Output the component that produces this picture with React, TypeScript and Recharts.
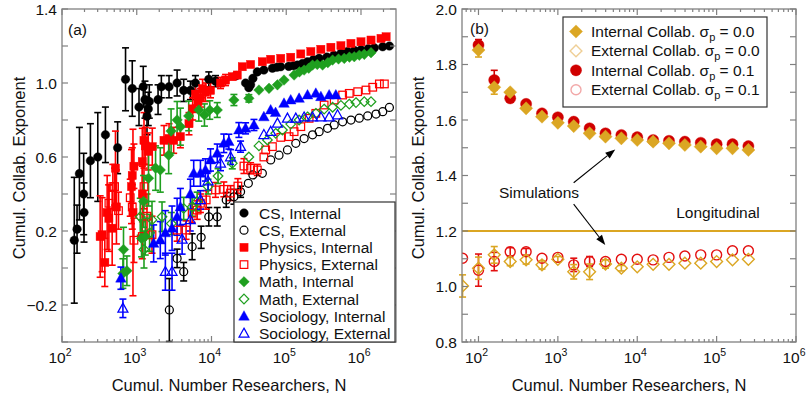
import { ErrorBar, ReferenceLine, Scatter, ScatterChart, XAxis, YAxis } from 'recharts';

const FONT = '"Liberation Sans", Arial, Helvetica, sans-serif';
const AXIS = '#808080';
const INK = '#111';

// rows are [cumulative researchers N, exponent, error]
const csInternal = [
  [146, 0.15, 0.34], [159, 0.21, 0.13], [171, 0.51, 0.25], [195, 0.4, 0.22], [197, 0.3, 0.16],
  [240, 0.58, 0.2], [301, 0.6, 0.24], [381, 0.72, 0.15], [555, 0.65, 0.14], [708, 1.02, 0.17],
  [871, 0.97, 0.15], [1072, 0.87, 0.1], [1222, 0.98, 0.11], [1288, 0.91, 0.1], [1371, 0.82, 0.1],
  [1426, 0.86, 0.09], [1472, 0.9, 0.09], [1928, 0.91, 0.08], [2134, 0.98, 0.06], [2704, 0.98, 0.06],
  [3467, 1.0, 0.07], [4246, 0.96, 0.06], [5224, 0.96, 0.05], [6095, 1.0, 0.04], [9204, 1.02, 0.04],
  [11320, 1.01, 0.03], [21400, 1.04, 0], [28580, 1.0, 0], [31600, 0.975, 0], [33340, 0.99, 0],
  [35810, 1.025, 0], [41020, 1.06, 0], [50190, 1.07, 0], [65300, 1.08, 0], [75000, 1.085, 0],
  [84400, 1.088, 0], [108100, 1.09, 0], [125000, 1.093, 0], [141300, 1.097, 0], [165000, 1.105, 0],
  [192600, 1.115, 0], [230000, 1.125, 0], [275000, 1.133, 0], [350000, 1.14, 0], [434500, 1.15, 0],
  [540000, 1.16, 0], [661000, 1.17, 0], [820000, 1.175, 0], [1000000, 1.18, 0], [1250000, 1.185, 0],
  [1507000, 1.19, 0], [1950000, 1.196, 0], [2400000, 1.2, 0],
];

const csExternal = [
  [2730, -0.227, 0.17], [3467, 0.052, 0.05], [4246, -0.02, 0.05], [5510, 0.115, 0.07],
  [7270, 0.166, 0.06], [9200, 0.277, 0.05], [11940, 0.277, 0.05], [15750, 0.368, 0.04],
  [19950, 0.385, 0.04], [24490, 0.412, 0.03], [31120, 0.458, 0], [35800, 0.503, 0],
  [47900, 0.512, 0], [61900, 0.584, 0], [80000, 0.61, 0], [103800, 0.638, 0], [134200, 0.674, 0],
  [173500, 0.7, 0], [224900, 0.72, 0], [275400, 0.737, 0], [357400, 0.755, 0], [438300, 0.773, 0],
  [567600, 0.79, 0], [734100, 0.8, 0], [948400, 0.81, 0], [1230000, 0.822, 0], [1589000, 0.832, 0],
  [1953000, 0.845, 0], [2399000, 0.868, 0],
];

const physicsInternal = [
  [324, 0.17, 0.22], [344, 0.18, 0.2], [374, 0.03, 0.13], [402, 0.3, 0.2], [424, 0.27, 0.18],
  [469, 0.215, 0.2], [519, 0.54, 0.2], [535, 0.33, 0.2], [851, 0.44, 0.2], [871, 0.5, 0.15],
  [890, 0.3, 0.45], [917, 0.55, 0.12], [1186, 0.575, 0.18], [1190, 0.4, 0.15], [1250, 0.69, 0.15],
  [1301, 0.66, 0.1], [1426, 0.63, 0.1], [1614, 0.656, 0.1], [2317, 0.69, 0.08], [2705, 0.7, 0.08],
  [3119, 0.69, 0.07], [3837, 0.71, 0.06], [5000, 0.78, 0.06], [5600, 0.86, 0.06], [6095, 0.94, 0.06],
  [6600, 0.9, 0.05], [7112, 0.92, 0.05], [7600, 0.97, 0.05], [8300, 0.95, 0.05], [9700, 0.96, 0.04],
  [13200, 1.0, 0.03], [15420, 1.016, 0.03], [18970, 1.034, 0], [22130, 1.043, 0], [25830, 1.088, 0],
  [33340, 1.1, 0], [47900, 1.115, 0], [61900, 1.128, 0], [84400, 1.133, 0], [114800, 1.139, 0],
  [156600, 1.157, 0], [213500, 1.17, 0], [290600, 1.182, 0], [395800, 1.193, 0], [539000, 1.202, 0],
  [734000, 1.214, 0], [1000000, 1.223, 0], [1362000, 1.232, 0], [1854000, 1.241, 0], [2167000, 1.25, 0],
];

const physicsExternal = [
  [424, 0.35, 0.1], [479, 0.44, 0.12], [505, 0.44, 0.1], [570, 0.31, 0.1], [818, 0.38, 0.1],
  [871, 0.33, 0.12], [917, 0.15, 0.12], [1186, 0.17, 0.12], [1250, 0.44, 0.12], [1371, 0.28, 0.12],
  [1600, 0.18, 0.1], [3467, 0.205, 0.06], [4570, 0.205, 0.05], [5510, 0.296, 0.05], [6430, 0.313, 0.05],
  [7112, 0.35, 0.05], [8490, 0.368, 0.05], [11320, 0.422, 0.04], [14620, 0.425, 0.04], [17990, 0.405, 0.04],
  [22540, 0.443, 0.04], [27160, 0.551, 0.04], [33340, 0.539, 0.03], [41020, 0.53, 0.03], [50190, 0.6, 0],
  [53100, 0.638, 0], [65300, 0.656, 0], [84400, 0.706, 0], [109100, 0.71, 0], [127400, 0.737, 0],
  [156600, 0.764, 0], [202300, 0.809, 0], [248700, 0.836, 0], [321400, 0.881, 0], [438000, 0.908, 0],
  [568000, 0.935, 0], [697000, 0.944, 0], [903000, 0.953, 0], [1166000, 0.962, 0], [1436000, 0.977, 0],
  [1762000, 0.995, 0], [2056000, 0.995, 0],
];

const mathInternal = [
  [653, -0.03, 0.08], [665, 0.1, 0.12], [738, -0.015, 0.08], [1159, 0.16, 0.1], [1233, 0.36, 0.14],
  [1300, 0.17, 0.1], [1439, 0.485, 0.15], [1786, 0.54, 0.12], [2065, 0.53, 0.12], [2673, 0.61, 0.1],
  [2878, 0.74, 0.12], [3467, 0.8, 0.1], [3837, 0.764, 0.1], [4955, 0.822, 0.08], [6760, 0.854, 0.06],
  [8050, 0.827, 0.06], [9480, 0.854, 0.05], [11940, 0.854, 0.04], [19950, 0.908, 0.03], [31620, 0.917, 0.02],
  [43150, 0.962, 0], [58850, 0.971, 0], [76260, 0.99, 0], [93330, 1.016, 0], [127400, 1.043, 0],
  [150000, 1.06, 0], [173500, 1.07, 0], [200000, 1.08, 0], [224900, 1.097, 0], [260000, 1.1, 0],
  [306300, 1.097, 0], [360000, 1.11, 0], [417000, 1.124, 0], [500000, 1.13, 0], [597000, 1.133, 0],
  [700000, 1.14, 0], [813000, 1.142, 0], [950000, 1.15, 0], [1106000, 1.155, 0], [1362000, 1.164, 0],
];

const mathExternal = [
  [1114, 0.277, 0.1], [1250, 0.1, 0.1], [1486, 0.19, 0.1], [1600, 0.26, 0.1], [2178, 0.277, 0.08],
  [2900, 0.24, 0.06], [4246, 0.322, 0.06], [5500, 0.33, 0.05], [6430, 0.36, 0.05], [9000, 0.44, 0.04],
  [12230, 0.497, 0.04], [18970, 0.566, 0.03], [31620, 0.6, 0], [43150, 0.66, 0], [56000, 0.692, 0],
  [72300, 0.728, 0], [88900, 0.746, 0], [114800, 0.778, 0], [148600, 0.8, 0], [192600, 0.817, 0],
  [248700, 0.836, 0], [321400, 0.859, 0], [417000, 0.869, 0], [539000, 0.879, 0], [697000, 0.886, 0],
  [857000, 0.894, 0], [1106000, 0.899, 0], [1362000, 0.899, 0],
];

const sociologyInternal = [
  [614, -0.055, 0.06], [1683, 0.133, 0.1], [2065, 0.151, 0.1], [2414, 0.19, 0.12], [2965, 0.215, 0.12],
  [3467, 0.277, 0.1], [3837, 0.33, 0.1], [5224, 0.4, 0.08], [5780, 0.512, 0.07], [7112, 0.512, 0.07],
  [8300, 0.53, 0.06], [9700, 0.584, 0.06], [11940, 0.62, 0.05], [14620, 0.674, 0.05], [17060, 0.683, 0.04],
  [23240, 0.746, 0.04], [28580, 0.755, 0.03], [37000, 0.773, 0.03], [50190, 0.817, 0], [61900, 0.854, 0],
  [72000, 0.84, 0], [93330, 0.89, 0], [114800, 0.908, 0], [148600, 0.917, 0], [192600, 0.935, 0],
  [248700, 0.944, 0], [290600, 0.926, 0], [375000, 0.935, 0], [461000, 0.935, 0],
];

const sociologyExternal = [
  [653, -0.218, 0.05], [2414, -0.02, 0.1], [2965, -0.02, 0.1], [4046, 0.155, 0.08], [5200, 0.26, 0.06],
  [7112, 0.368, 0.05], [9000, 0.47, 0.05], [13200, 0.566, 0.04], [17990, 0.6, 0.04], [24490, 0.656, 0.03],
  [50190, 0.72, 0], [61900, 0.737, 0], [76260, 0.782, 0], [103800, 0.809, 0], [134200, 0.809, 0],
  [173500, 0.815, 0], [224900, 0.815, 0], [290600, 0.815, 0], [375000, 0.815, 0], [486000, 0.827, 0],
];

// simulated model, panel (b)
const internalSigma00 = [
  [100, 1.852, 0.025], [158, 1.718, 0.025], [251, 1.7, 0], [398, 1.642, 0], [631, 1.612, 0],
  [1000, 1.59, 0], [1585, 1.578, 0], [2512, 1.552, 0], [3981, 1.54, 0], [6310, 1.534, 0],
  [10000, 1.528, 0], [15849, 1.522, 0], [25119, 1.516, 0], [39811, 1.51, 0], [63096, 1.504, 0],
  [100000, 1.498, 0], [158489, 1.498, 0], [251189, 1.492, 0],
];

const externalSigma00 = [
  [63, 1.002, 0.04], [100, 1.066, 0.04], [158, 1.114, 0.03], [251, 1.09, 0.015], [398, 1.096, 0.015],
  [631, 1.078, 0.015], [1000, 1.098, 0.01], [1585, 1.053, 0.026], [2512, 1.053, 0.028], [3981, 1.081, 0.015],
  [6310, 1.066, 0.01], [10000, 1.071, 0], [15849, 1.08, 0], [25119, 1.08, 0], [39811, 1.084, 0],
  [63096, 1.084, 0], [100000, 1.09, 0], [158489, 1.096, 0], [251189, 1.098, 0],
];

const internalSigma01 = [
  [100, 1.87, 0.02], [158, 1.744, 0.035], [251, 1.678, 0], [398, 1.658, 0], [631, 1.624, 0],
  [1000, 1.61, 0], [1585, 1.594, 0], [2512, 1.57, 0], [3981, 1.552, 0], [6310, 1.546, 0],
  [10000, 1.538, 0], [15849, 1.528, 0], [25119, 1.525, 0], [39811, 1.522, 0], [63096, 1.518, 0],
  [100000, 1.513, 0], [158489, 1.513, 0], [251189, 1.506, 0],
];

const externalSigma01 = [
  [63, 1.102, 0], [100, 1.059, 0.058], [158, 1.09, 0.033], [251, 1.125, 0.015], [398, 1.125, 0.012],
  [631, 1.102, 0], [1000, 1.105, 0], [1585, 1.078, 0.024], [2512, 1.09, 0.018], [3981, 1.09, 0],
  [6310, 1.098, 0], [10000, 1.098, 0], [15849, 1.096, 0], [25119, 1.105, 0], [39811, 1.11, 0],
  [63096, 1.114, 0], [100000, 1.114, 0], [158489, 1.129, 0], [251189, 1.129, 0],
];

const longitudinalExponent = 1.2;

const yTicksA = [-0.4, -0.2, 0, 0.2, 0.4, 0.6, 0.8, 1.0, 1.2, 1.4];
const yLabelsA = [-0.2, 0.2, 0.6, 1.0, 1.4];
const yTicksB = [0.8, 0.9, 1.0, 1.1, 1.2, 1.3, 1.4, 1.5, 1.6, 1.7, 1.8, 1.9, 2.0];
const yLabelsB = [0.8, 1.0, 1.2, 1.4, 1.6, 1.8, 2.0];

const GOLD = '#dba623';
const DARKRED = '#d00000';
const GREEN = '#1f9f1f';

type Kind = 'circle' | 'square' | 'diamond' | 'triangle';

const seriesA = [
  { name: 'CS, Internal', rows: csInternal, color: '#000', kind: 'circle', filled: true, size: 4.3 },
  { name: 'CS, External', rows: csExternal, color: '#000', kind: 'circle', filled: false, size: 4 },
  { name: 'Physics, Internal', rows: physicsInternal, color: '#ff0000', kind: 'square', filled: true, size: 4.1 },
  { name: 'Physics, External', rows: physicsExternal, color: '#ff0000', kind: 'square', filled: false, size: 3.8 },
  { name: 'Math, Internal', rows: mathInternal, color: GREEN, kind: 'diamond', filled: true, size: 5.3 },
  { name: 'Math, External', rows: mathExternal, color: GREEN, kind: 'diamond', filled: false, size: 4.8 },
  { name: 'Sociology, Internal', rows: sociologyInternal, color: '#0000ff', kind: 'triangle', filled: true, size: 5.3 },
  { name: 'Sociology, External', rows: sociologyExternal, color: '#0000ff', kind: 'triangle', filled: false, size: 5 },
];

// red drawn first so the gold diamonds sit on top
const seriesB = [
  { name: 'Internal Collab. σp = 0.1', rows: internalSigma01, color: DARKRED, kind: 'circle', filled: true, size: 5.6 },
  { name: 'External Collab. σp = 0.1', rows: externalSigma01, color: '#e31010', kind: 'circle', filled: false, size: 5 },
  { name: 'Internal Collab. σp = 0.0', rows: internalSigma00, color: GOLD, kind: 'diamond', filled: true, size: 6.6 },
  { name: 'External Collab. σp = 0.0', rows: externalSigma00, color: GOLD, kind: 'diamond', filled: false, size: 5.9 },
];

const legendB = [
  { sigma: '0.0', label: 'Internal Collab. ', color: GOLD, kind: 'diamond', filled: true, size: 6.6 },
  { sigma: '0.0', label: 'External Collab. ', color: '#efcf96', kind: 'diamond', filled: false, size: 5.9 },
  { sigma: '0.1', label: 'Internal Collab. ', color: DARKRED, kind: 'circle', filled: true, size: 5.6 },
  { sigma: '0.1', label: 'External Collab. ', color: '#f2a8a8', kind: 'circle', filled: false, size: 5 },
];

const toPoints = (rows: number[][]) => rows.map(([n, v, e]) => ({ n, v, e: e > 0 ? e : null }));

function logTicks(lo: number, hi: number) {
  const out: number[] = [];
  for (let k = Math.floor(Math.log10(lo)); k <= Math.ceil(Math.log10(hi)); k++) {
    for (let m = 1; m <= 9; m++) {
      const t = m * Math.pow(10, k);
      if (t >= lo && t <= hi) out.push(t);
    }
  }
  return out;
}

function Marker({ cx, cy, kind, color, filled, size, sw = 1.2 }: any) {
  if (cx == null || cy == null) return null;
  const fill = filled ? color : 'none';
  const strokeWidth = filled ? 0.4 : sw;
  const common = { fill, stroke: color, strokeWidth };
  switch (kind as Kind) {
    case 'circle':
      return <circle cx={cx} cy={cy} r={size} {...common} />;
    case 'square':
      return <rect x={cx - size} y={cy - size} width={size * 2} height={size * 2} {...common} />;
    case 'diamond':
      return <polygon points={`${cx},${cy - size} ${cx + size},${cy} ${cx},${cy + size} ${cx - size},${cy}`} {...common} />;
    default:
      return (
        <polygon
          points={`${cx},${cy - size * 1.05} ${cx + size},${cy + size * 0.75} ${cx - size},${cy + size * 0.75}`}
          {...common}
        />
      );
  }
}

// log axis tick: inward marks on bottom and top, label 10^k on decades
function LogTick(props: any) {
  const { x, y, payload, plotHeight } = props;
  const lg = Math.log10(payload.value);
  const exp = Math.round(lg);
  const major = Math.abs(lg - exp) < 1e-6;
  const len = major ? 6 : 3;
  const top = y - plotHeight;
  return (
    <g>
      <line x1={x} y1={y} x2={x} y2={y - len} stroke={AXIS} strokeWidth={1.2} />
      <line x1={x} y1={top} x2={x} y2={top + len} stroke={AXIS} strokeWidth={1.2} />
      {major && (
        <text x={x - 2} y={y + 21} textAnchor="middle" fontSize={15.5} fontFamily={FONT} fill={INK}>
          10
          <tspan dy={-7} fontSize={10.5}>
            {exp}
          </tspan>
        </text>
      )}
    </g>
  );
}

function ValueTick(props: any) {
  const { x, y, payload, plotWidth, labels } = props;
  const v = payload.value;
  const labeled = labels.some((l: number) => Math.abs(l - v) < 1e-6);
  const right = x + plotWidth;
  return (
    <g>
      <line x1={x} y1={y} x2={x + 6} y2={y} stroke={AXIS} strokeWidth={1.2} />
      <line x1={right} y1={y} x2={right - 6} y2={y} stroke={AXIS} strokeWidth={1.2} />
      {labeled && (
        <text x={x - 5} y={y + 5.5} textAnchor="end" fontSize={15.5} fontFamily={FONT} fill={INK}>
          {v.toFixed(1).replace('-', '\u2212')}
        </text>
      )}
    </g>
  );
}

function Arrow(props: any) {
  const { x1, y1, x2, y2 } = props;
  const ang = Math.atan2(y2 - y1, x2 - x1);
  const L = 10;
  const W = 3.6;
  const bx = x2 - L * Math.cos(ang);
  const by = y2 - L * Math.sin(ang);
  const pts = `${x2},${y2} ${bx + W * Math.sin(ang)},${by - W * Math.cos(ang)} ${bx - W * Math.sin(ang)},${by + W * Math.cos(ang)}`;
  return (
    <g>
      <line x1={x1} y1={y1} x2={bx} y2={by} stroke="#000" strokeWidth={1.1} />
      <polygon points={pts} fill="#000" />
    </g>
  );
}

function renderSeries(list: any[], capHalf: number, barWidth: number, sw: number) {
  return list.map((s) => (
    <Scatter
      key={s.name}
      name={s.name}
      data={toPoints(s.rows)}
      isAnimationActive={false}
      shape={(p: any) => <Marker cx={p.cx} cy={p.cy} kind={s.kind} color={s.color} filled={s.filled} size={s.size} sw={sw} />}
    >
      <ErrorBar dataKey="e" direction="y" width={capHalf} stroke={s.color} strokeWidth={barWidth} isAnimationActive={false} />
    </Scatter>
  ));
}

const xTicksA = logTicks(100, 2.94e6);
const xTicksB = logTicks(62, 1e6);

function PanelA() {
  return (
    <ScatterChart width={405} height={403} margin={{ top: 9, right: 9, bottom: 21, left: 22 }}>
      <XAxis
        type="number"
        dataKey="n"
        scale="log"
        domain={[100, 2.94e6]}
        allowDataOverflow
        ticks={xTicksA}
        interval={0}
        height={40}
        tickSize={0}
        tickMargin={0}
        axisLine={false}
        tickLine={false}
        tick={(p: any) => <LogTick {...p} plotHeight={333} />}
      />
      <YAxis
        type="number"
        dataKey="v"
        domain={[-0.4, 1.4]}
        allowDataOverflow
        ticks={yTicksA}
        interval={0}
        width={40}
        tickSize={0}
        tickMargin={0}
        axisLine={false}
        tickLine={false}
        tick={(p: any) => <ValueTick {...p} plotWidth={334} labels={yLabelsA} />}
      />
      {renderSeries(seriesA, 3.5, 1.6, 1.25)}
    </ScatterChart>
  );
}

function PanelB() {
  return (
    <ScatterChart width={404} height={403} margin={{ top: 9, right: 13, bottom: 21, left: 17 }}>
      <XAxis
        type="number"
        dataKey="n"
        scale="log"
        domain={[62, 1e6]}
        allowDataOverflow
        ticks={xTicksB}
        interval={0}
        height={40}
        tickSize={0}
        tickMargin={0}
        axisLine={false}
        tickLine={false}
        tick={(p: any) => <LogTick {...p} plotHeight={333} />}
      />
      <YAxis
        type="number"
        dataKey="v"
        domain={[0.8, 2.0]}
        allowDataOverflow
        ticks={yTicksB}
        interval={0}
        width={40}
        tickSize={0}
        tickMargin={0}
        axisLine={false}
        tickLine={false}
        tick={(p: any) => <ValueTick {...p} plotWidth={334} labels={yLabelsB} />}
      />
      <ReferenceLine y={longitudinalExponent} stroke={GOLD} strokeWidth={2.2} />
      <ReferenceLine segment={[{ x: 1581, y: 1.374 }, { x: 5284, y: 1.494 }]} shape={(p: any) => <Arrow {...p} />} />
      <ReferenceLine segment={[{ x: 1581, y: 1.297 }, { x: 3954, y: 1.15 }]} shape={(p: any) => <Arrow {...p} />} />
      {renderSeries(seriesB, 3.5, 1.6, 1.4)}
    </ScatterChart>
  );
}

function Overlay() {
  const rowA = (i: number) => 213 + i * 17.2;
  const rowB = (i: number) => 31.5 + i * 19.4;
  return (
    <svg
      width={809}
      height={403}
      style={{ position: 'absolute', left: 0, top: 0, pointerEvents: 'none' }}
      fontFamily={FONT}
      fill={INK}
    >
      <rect x={62} y={9} width={334} height={333} fill="none" stroke={AXIS} strokeWidth={1.3} />
      <rect x={462} y={9} width={334} height={333} fill="none" stroke={AXIS} strokeWidth={1.3} />

      <text x={68} y={35} fontSize={15.5}>(a)</text>
      <text x={470} y={34} fontSize={15.5}>(b)</text>

      <text x={229} y={391} fontSize={16.5} textAnchor="middle">Cumul. Number Researchers, N</text>
      <text x={629} y={391} fontSize={16.5} textAnchor="middle">Cumul. Number Researchers, N</text>
      <text transform="translate(25,168) rotate(-90)" fontSize={16.5} textAnchor="middle">Cumul. Collab. Exponent</text>
      <text transform="translate(424,168) rotate(-90)" fontSize={16.5} textAnchor="middle">Cumul. Collab. Exponent</text>

      <text x={539} y={198} fontSize={15.5} textAnchor="middle">Simulations</text>
      <text x={718} y={218} fontSize={15.5} textAnchor="middle">Longitudinal</text>

      <rect x={234} y={202} width={161} height={140} fill="#fff" stroke="#333" strokeWidth={1.2} />
      {seriesA.map((s, i) => (
        <g key={s.name}>
          <Marker cx={244} cy={rowA(i)} kind={s.kind} color={s.color} filled={s.filled} size={s.size} />
          <text x={259} y={rowA(i) + 5.5} fontSize={15.5}>{s.name}</text>
        </g>
      ))}

      <rect x={563} y={17} width={204} height={90} fill="#fff" stroke="#333" strokeWidth={1.2} />
      {legendB.map((s, i) => (
        <g key={i}>
          <Marker cx={576} cy={rowB(i)} kind={s.kind} color={s.color} filled={s.filled} size={s.size} sw={1.4} />
          <text x={591} y={rowB(i) + 5.5} fontSize={15.5}>
            {s.label}σ
            <tspan dy={4} fontSize={11}>p</tspan>
            <tspan dy={-4}>{` = ${s.sigma}`}</tspan>
          </text>
        </g>
      ))}
    </svg>
  );
}

export default function App() {
  return (
    <div style={{ position: 'absolute', left: 0, top: 0, width: 809, height: 403, background: '#fff' }}>
      <div style={{ position: 'absolute', left: 0, top: 0 }}>
        <PanelA />
      </div>
      <div style={{ position: 'absolute', left: 405, top: 0 }}>
        <PanelB />
      </div>
      <Overlay />
    </div>
  );
}
